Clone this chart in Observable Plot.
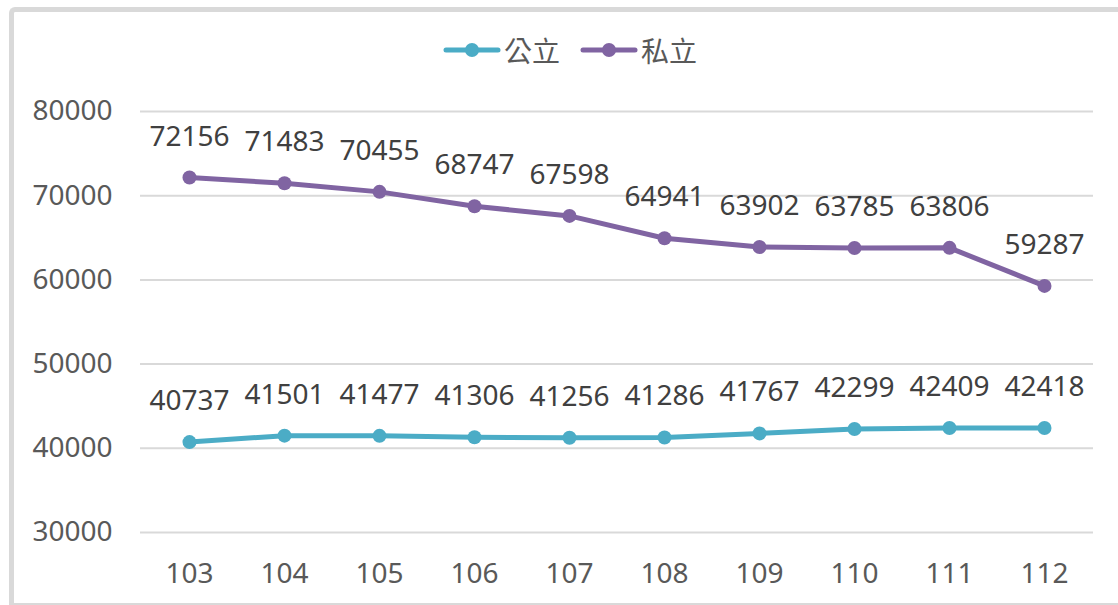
<!DOCTYPE html>
<html>
<head>
<meta charset="utf-8">
<script src="https://cdn.jsdelivr.net/npm/d3@7"></script>
<script src="https://cdn.jsdelivr.net/npm/@observablehq/plot@0.6"></script>
<style>
  html, body { margin: 0; padding: 0; background: #fff; }
  #wrap { position: relative; width: 1118px; height: 605px; overflow: hidden;
    font-family: "Noto Sans", "Noto Sans CJK TC", sans-serif; color: #595959; }
  #frame { position: absolute; left: 9px; top: 7px; width: 1200px; height: 591px;
    border-left: 5px solid #d9d9d9; border-top: 5px solid #d9d9d9; border-bottom: 2px solid #d9d9d9;
    border-top-left-radius: 6px; }
  #legend { position: absolute; top: 30px; left: 0; width: 1118px; display: flex; justify-content: center;
    gap: 20px; font-size: 28px; padding-left: 22px; box-sizing: border-box; }
  .item { display: flex; align-items: center; gap: 3px; }
  #chart { position: absolute; left: 0; top: 0; }
</style>
</head>
<body>
<div id="wrap">
  <div id="frame"></div>
  <div id="legend"></div>
  <div id="chart"></div>
</div>
<script>
const years = [103, 104, 105, 106, 107, 108, 109, 110, 111, 112];
const publicValues = [40737, 41501, 41477, 41306, 41256, 41286, 41767, 42299, 42409, 42418];
const privateValues = [72156, 71483, 70455, 68747, 67598, 64941, 63902, 63785, 63806, 59287];
const seriesNames = ["公立", "私立"];
const seriesColors = ["#4BACC6", "#8064A2"];
const yTicks = [30000, 40000, 50000, 60000, 70000, 80000];

const data = [
  ...years.map((y, i) => ({year: y, value: publicValues[i], series: seriesNames[0]})),
  ...years.map((y, i) => ({year: y, value: privateValues[i], series: seriesNames[1]}))
];

// legend
const legend = d3.select("#legend");
seriesNames.forEach((name, i) => {
  const it = legend.append("div").attr("class", "item");
  const s = it.append("svg").attr("width", 58).attr("height", 20);
  s.append("line").attr("x1", 3).attr("x2", 55).attr("y1", 10).attr("y2", 10)
    .attr("stroke", seriesColors[i]).attr("stroke-width", 5).attr("stroke-linecap", "round");
  s.append("circle").attr("cx", 29).attr("cy", 10).attr("r", 7).attr("fill", seriesColors[i]);
  it.append("span").text(name);
});

const plot = Plot.plot({
  width: 1118,
  height: 605,
  marginTop: 111,
  marginBottom: 73,
  marginLeft: 140,
  marginRight: 25,
  style: {fontFamily: '"Noto Sans", "Noto Sans CJK TC", sans-serif', fontSize: "28px", color: "#595959", background: "transparent"},
  x: {type: "point", domain: years, padding: 0.5},
  y: {domain: [30000, 80000]},
  color: {domain: seriesNames, range: seriesColors},
  marks: [
    Plot.ruleY(yTicks, {stroke: "#d9d9d9", strokeWidth: 2}),
    Plot.axisY({ticks: yTicks, tickSize: 0, tickPadding: 28, label: null, tickFormat: d => String(d), fontSize: 28, fill: "#595959"}),
    Plot.axisX({tickSize: 0, tickPadding: 31, label: null, tickFormat: d => String(d), fontSize: 28, fill: "#595959"}),
    Plot.line(data, {x: "year", y: "value", z: "series", stroke: "series", strokeWidth: 5, strokeLinecap: "round"}),
    Plot.dot(data, {x: "year", y: "value", fill: "series", r: 7}),
    Plot.text(data, {x: "year", y: "value", text: d => String(d.value), dy: -41, fill: "#404040", fontSize: 28})
  ]
});
document.getElementById("chart").appendChild(plot);
</script>
</body>
</html>
